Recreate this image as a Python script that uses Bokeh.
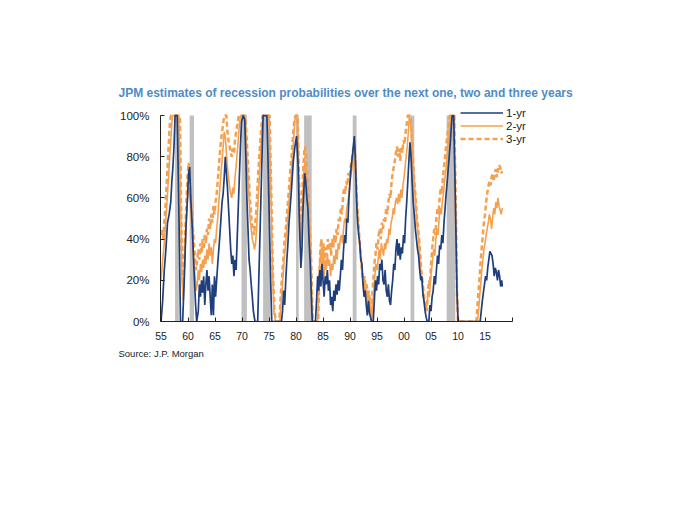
from bokeh.plotting import figure
from bokeh.models import (Range1d, FixedTicker, PrintfTickFormatter, Title,
                          Legend, LegendItem, ColumnDataSource)
from bokeh.embed import file_html
from bokeh.resources import INLINE

TITLE = "JPM estimates of recession probabilities over the next one, two and three years"
SOURCE = "Source: J.P. Morgan"

# NBER recession periods (decimal years)
REC_START = [1957.6, 1960.3, 1969.9, 1973.9, 1980.0, 1981.5, 1990.5, 2001.2, 2007.9]
REC_END = [1958.3, 1961.1, 1970.9, 1975.2, 1980.5, 1982.9, 1991.2, 2001.9, 2009.5]

X_TICKS = [1955, 1960, 1965, 1970, 1975, 1980, 1985, 1990, 1995, 2000, 2005, 2010, 2015, 2020]
X_LABELS = ["55", "60", "65", "70", "75", "80", "85", "90", "95", "00", "05", "10", "15", ""]
Y_TICKS = [0, 20, 40, 60, 80, 100]

# 1-year recession probability (%)
ONE_YR = [
    (1955.0, 0), (1955.3, 10), (1955.6, 25), (1955.9, 35), (1956.2, 48), (1956.5, 52),
    (1956.8, 58), (1957.0, 68), (1957.2, 75), (1957.4, 85), (1957.6, 100), (1958.0, 100),
    (1958.3, 55), (1958.6, 0), (1959.0, 0), (1959.3, 20), (1959.6, 45), (1959.9, 60),
    (1960.1, 72), (1960.3, 75), (1960.5, 60), (1960.8, 45), (1961.1, 25), (1961.4, 8),
    (1961.6, 0), (1961.9, 5), (1962.1, 18), (1962.3, 12), (1962.5, 20), (1962.7, 14),
    (1962.9, 22), (1963.1, 8), (1963.3, 18), (1963.5, 25), (1963.7, 15), (1963.9, 22),
    (1964.1, 12), (1964.3, 3), (1964.5, 18), (1964.7, 3), (1964.9, 22), (1965.1, 12),
    (1965.3, 20), (1965.5, 28), (1965.7, 35), (1965.9, 42), (1966.1, 50), (1966.3, 58),
    (1966.5, 62), (1966.7, 70), (1966.9, 80), (1967.1, 72), (1967.3, 65), (1967.5, 55),
    (1967.7, 45), (1967.9, 35), (1968.1, 28), (1968.3, 32), (1968.5, 22), (1968.7, 30),
    (1968.9, 25), (1969.1, 40), (1969.3, 55), (1969.5, 70), (1969.7, 85), (1969.9, 97),
    (1970.2, 100), (1970.5, 98), (1970.7, 80), (1970.9, 60), (1971.1, 45), (1971.3, 30),
    (1971.5, 25), (1971.7, 18), (1971.9, 12), (1972.1, 5), (1972.4, 0), (1972.9, 0),
    (1973.1, 20), (1973.3, 40), (1973.5, 60), (1973.7, 80), (1973.9, 100), (1974.6, 100),
    (1974.8, 80), (1975.0, 55), (1975.3, 20), (1975.5, 0), (1977.3, 0), (1977.5, 5),
    (1977.7, 15), (1977.9, 8), (1978.1, 20), (1978.3, 30), (1978.5, 38), (1978.7, 48),
    (1978.9, 55), (1979.1, 62), (1979.3, 70), (1979.5, 78), (1979.8, 85), (1980.1, 90),
    (1980.4, 75), (1980.6, 50), (1980.9, 26), (1981.1, 35), (1981.3, 55), (1981.6, 72),
    (1981.8, 68), (1982.0, 60), (1982.2, 55), (1982.4, 40), (1982.6, 30), (1982.8, 15),
    (1983.0, 0), (1983.6, 0), (1983.8, 10), (1984.0, 22), (1984.2, 15), (1984.4, 25),
    (1984.6, 17), (1984.8, 28), (1985.0, 20), (1985.2, 12), (1985.4, 22), (1985.6, 18),
    (1985.8, 25), (1986.0, 15), (1986.2, 20), (1986.4, 8), (1986.6, 12), (1986.8, 5),
    (1987.0, 15), (1987.2, 10), (1987.4, 18), (1987.6, 13), (1987.8, 20), (1988.0, 15),
    (1988.2, 22), (1988.4, 30), (1988.6, 25), (1988.8, 35), (1989.0, 42), (1989.2, 38),
    (1989.4, 50), (1989.6, 48), (1989.8, 60), (1990.0, 68), (1990.2, 75), (1990.5, 82),
    (1990.8, 90), (1991.0, 78), (1991.2, 60), (1991.4, 48), (1991.6, 42), (1991.8, 38),
    (1992.0, 30), (1992.2, 28), (1992.4, 18), (1992.6, 12), (1992.8, 15), (1993.0, 8),
    (1993.2, 3), (1993.4, 10), (1993.6, 4), (1993.8, 2), (1994.0, 0), (1994.3, 0),
    (1994.5, 10), (1994.7, 20), (1994.9, 15), (1995.1, 22), (1995.3, 18), (1995.5, 28),
    (1995.7, 25), (1995.9, 30), (1996.1, 20), (1996.3, 18), (1996.5, 25), (1996.7, 15),
    (1996.9, 12), (1997.1, 18), (1997.3, 10), (1997.5, 8), (1997.7, 15), (1997.9, 20),
    (1998.1, 28), (1998.3, 25), (1998.5, 35), (1998.7, 40), (1998.9, 32), (1999.1, 38),
    (1999.3, 30), (1999.5, 36), (1999.7, 33), (1999.9, 42), (2000.1, 38), (2000.3, 50),
    (2000.5, 58), (2000.7, 68), (2000.9, 78), (2001.1, 87), (2001.3, 80), (2001.5, 68),
    (2001.7, 58), (2001.9, 52), (2002.1, 45), (2002.3, 40), (2002.5, 35), (2002.7, 32),
    (2002.9, 25), (2003.1, 20), (2003.3, 22), (2003.5, 13), (2003.7, 10), (2003.9, 5),
    (2004.1, 2), (2004.3, 0), (2004.6, 0), (2004.8, 8), (2005.0, 5), (2005.2, 12),
    (2005.4, 15), (2005.6, 22), (2005.8, 18), (2006.0, 25), (2006.2, 32), (2006.4, 28),
    (2006.6, 37), (2006.8, 35), (2007.0, 42), (2007.2, 38), (2007.4, 48), (2007.6, 55),
    (2007.8, 62), (2008.0, 68), (2008.3, 78), (2008.6, 88), (2008.9, 100), (2009.2, 100),
    (2009.5, 60), (2009.8, 15), (2010.0, 0), (2014.1, 0), (2014.3, 5), (2014.5, 10),
    (2014.7, 14), (2014.9, 18), (2015.1, 22), (2015.3, 20), (2015.5, 26), (2015.7, 30),
    (2015.9, 34), (2016.1, 33), (2016.3, 32), (2016.5, 28), (2016.7, 22), (2016.9, 26),
    (2017.1, 24), (2017.3, 20), (2017.5, 25), (2017.7, 22), (2017.9, 17), (2018.1, 20),
    (2018.2, 17),
]

# 2-year recession probability (%)
TWO_YR = [
    (1955.0, 20), (1955.3, 30), (1955.6, 38), (1955.9, 50), (1956.2, 62), (1956.5, 75),
    (1956.8, 88), (1957.1, 100), (1958.3, 100), (1958.6, 60), (1958.9, 20), (1959.1, 10),
    (1959.3, 25), (1959.5, 38), (1959.7, 50), (1959.9, 60), (1960.1, 65), (1960.3, 62),
    (1960.5, 55), (1960.7, 45), (1960.9, 35), (1961.1, 28), (1961.3, 22), (1961.5, 15),
    (1961.7, 18), (1961.9, 25), (1962.1, 20), (1962.3, 28), (1962.5, 24), (1962.7, 30),
    (1962.9, 26), (1963.1, 32), (1963.3, 28), (1963.5, 35), (1963.7, 30), (1963.9, 38),
    (1964.1, 32), (1964.3, 36), (1964.5, 28), (1964.7, 35), (1964.9, 40), (1965.1, 38),
    (1965.3, 45), (1965.5, 50), (1965.7, 58), (1965.9, 65), (1966.1, 72), (1966.3, 78),
    (1966.5, 85), (1966.7, 92), (1966.9, 90), (1967.1, 82), (1967.3, 75), (1967.5, 70),
    (1967.7, 65), (1967.9, 62), (1968.1, 60), (1968.3, 65), (1968.5, 62), (1968.7, 70),
    (1968.9, 75), (1969.1, 82), (1969.3, 88), (1969.5, 95), (1969.7, 100), (1970.5, 100),
    (1970.7, 90), (1970.9, 80), (1971.1, 70), (1971.3, 60), (1971.5, 50), (1971.7, 45),
    (1971.9, 40), (1972.1, 38), (1972.3, 35), (1972.5, 38), (1972.7, 45), (1972.9, 55),
    (1973.1, 65), (1973.3, 75), (1973.5, 85), (1973.7, 95), (1973.9, 100), (1975.0, 100),
    (1975.3, 70), (1975.6, 30), (1975.9, 5), (1976.2, 0), (1977.0, 0), (1977.2, 8),
    (1977.4, 15), (1977.6, 22), (1977.8, 30), (1978.0, 35), (1978.2, 42), (1978.4, 48),
    (1978.6, 55), (1978.8, 62), (1979.0, 68), (1979.2, 75), (1979.4, 82), (1979.6, 90),
    (1979.8, 98), (1980.0, 100), (1980.3, 95), (1980.5, 70), (1980.7, 50), (1980.9, 38),
    (1981.1, 50), (1981.3, 65), (1981.5, 75), (1981.7, 78), (1981.9, 70), (1982.1, 62),
    (1982.3, 55), (1982.5, 45), (1982.7, 30), (1982.9, 12), (1983.1, 0), (1984.0, 0),
    (1984.2, 15), (1984.4, 28), (1984.6, 35), (1984.8, 25), (1985.0, 32), (1985.2, 22),
    (1985.4, 30), (1985.6, 25), (1985.8, 33), (1986.0, 27), (1986.2, 30), (1986.4, 22),
    (1986.6, 28), (1986.8, 25), (1987.0, 32), (1987.2, 28), (1987.4, 35), (1987.6, 30),
    (1987.8, 38), (1988.0, 35), (1988.2, 40), (1988.4, 42), (1988.6, 38), (1988.8, 45),
    (1989.0, 50), (1989.2, 48), (1989.4, 55), (1989.6, 58), (1989.8, 62), (1990.0, 68),
    (1990.2, 72), (1990.4, 75), (1990.6, 80), (1990.8, 84), (1991.0, 75), (1991.2, 62),
    (1991.4, 52), (1991.6, 45), (1991.8, 38), (1992.0, 30), (1992.2, 25), (1992.4, 20),
    (1992.6, 15), (1992.8, 18), (1993.0, 10), (1993.2, 15), (1993.4, 8), (1993.6, 12),
    (1993.8, 5), (1994.0, 0), (1994.2, 8), (1994.4, 15), (1994.6, 22), (1994.8, 28),
    (1995.0, 25), (1995.2, 30), (1995.4, 35), (1995.6, 30), (1995.8, 38), (1996.0, 35),
    (1996.2, 32), (1996.4, 38), (1996.6, 35), (1996.8, 40), (1997.0, 38), (1997.2, 45),
    (1997.4, 42), (1997.6, 48), (1997.8, 50), (1998.0, 55), (1998.2, 52), (1998.4, 58),
    (1998.6, 60), (1998.8, 57), (1999.0, 62), (1999.2, 58), (1999.4, 64), (1999.6, 60),
    (1999.8, 66), (2000.0, 70), (2000.2, 75), (2000.4, 80), (2000.6, 85), (2000.8, 92),
    (2001.0, 100), (2001.3, 95), (2001.5, 85), (2001.7, 75), (2001.9, 68), (2002.1, 60),
    (2002.3, 52), (2002.5, 45), (2002.7, 40), (2002.9, 32), (2003.1, 25), (2003.3, 20),
    (2003.5, 15), (2003.7, 10), (2003.9, 8), (2004.1, 5), (2004.3, 10), (2004.5, 15),
    (2004.7, 12), (2004.9, 20), (2005.1, 25), (2005.3, 30), (2005.5, 35), (2005.7, 32),
    (2005.9, 40), (2006.1, 45), (2006.3, 42), (2006.5, 50), (2006.7, 55), (2006.9, 52),
    (2007.1, 58), (2007.3, 62), (2007.5, 68), (2007.7, 72), (2007.9, 78), (2008.1, 85),
    (2008.3, 90), (2008.5, 95), (2008.8, 100), (2009.2, 100), (2009.5, 60), (2009.8, 15),
    (2010.0, 0), (2013.6, 0), (2013.8, 5), (2014.0, 12), (2014.2, 18), (2014.4, 25),
    (2014.6, 30), (2014.8, 35), (2015.0, 38), (2015.2, 42), (2015.4, 45), (2015.6, 48),
    (2015.8, 52), (2016.0, 50), (2016.2, 45), (2016.4, 50), (2016.6, 55), (2016.8, 52),
    (2017.0, 58), (2017.2, 55), (2017.4, 60), (2017.6, 56), (2017.8, 54), (2018.0, 52),
    (2018.2, 55),
]

# 3-year recession probability (%)
THREE_YR = [
    (1955.0, 42), (1955.2, 45), (1955.4, 40), (1955.6, 48), (1955.8, 55), (1956.0, 65),
    (1956.2, 75), (1956.4, 85), (1956.6, 95), (1956.8, 100), (1958.5, 100), (1958.7, 60),
    (1958.9, 25), (1959.1, 18), (1959.3, 30), (1959.5, 45), (1959.7, 58), (1959.9, 70),
    (1960.1, 77), (1960.3, 72), (1960.5, 62), (1960.7, 52), (1960.9, 45), (1961.1, 38),
    (1961.3, 30), (1961.5, 25), (1961.7, 30), (1961.9, 35), (1962.1, 30), (1962.3, 38),
    (1962.5, 33), (1962.7, 40), (1962.9, 35), (1963.1, 42), (1963.3, 38), (1963.5, 45),
    (1963.7, 42), (1963.9, 50), (1964.1, 45), (1964.3, 52), (1964.5, 48), (1964.7, 56),
    (1964.9, 52), (1965.1, 58), (1965.3, 62), (1965.5, 68), (1965.7, 75), (1965.9, 82),
    (1966.1, 88), (1966.3, 92), (1966.5, 96), (1966.7, 100), (1967.1, 100), (1967.3, 92),
    (1967.5, 88), (1967.7, 85), (1967.9, 82), (1968.1, 80), (1968.3, 84), (1968.5, 82),
    (1968.7, 88), (1968.9, 92), (1969.1, 95), (1969.4, 100), (1970.6, 100), (1970.8, 92),
    (1971.0, 82), (1971.2, 72), (1971.4, 62), (1971.6, 55), (1971.8, 48), (1972.0, 45),
    (1972.2, 42), (1972.4, 47), (1972.6, 52), (1972.8, 62), (1973.0, 72), (1973.2, 80),
    (1973.4, 88), (1973.6, 95), (1973.8, 100), (1975.1, 100), (1975.4, 65), (1975.7, 25),
    (1976.0, 5), (1976.3, 0), (1976.9, 0), (1977.1, 10), (1977.3, 18), (1977.5, 25),
    (1977.7, 32), (1977.9, 40), (1978.1, 45), (1978.3, 52), (1978.5, 58), (1978.7, 65),
    (1978.9, 72), (1979.1, 78), (1979.3, 85), (1979.5, 92), (1979.7, 98), (1979.9, 100),
    (1980.3, 100), (1980.5, 75), (1980.7, 55), (1980.9, 45), (1981.1, 58), (1981.3, 72),
    (1981.5, 82), (1981.7, 85), (1981.9, 78), (1982.1, 70), (1982.3, 62), (1982.5, 50),
    (1982.7, 38), (1982.9, 20), (1983.1, 0), (1984.1, 0), (1984.3, 20), (1984.5, 35),
    (1984.7, 40), (1984.9, 30), (1985.1, 38), (1985.3, 28), (1985.5, 36), (1985.7, 32),
    (1985.9, 40), (1986.1, 35), (1986.3, 38), (1986.5, 32), (1986.7, 40), (1986.9, 36),
    (1987.1, 42), (1987.3, 38), (1987.5, 45), (1987.7, 42), (1987.9, 50), (1988.1, 48),
    (1988.3, 55), (1988.5, 52), (1988.7, 60), (1988.9, 65), (1989.1, 62), (1989.3, 68),
    (1989.5, 66), (1989.7, 72), (1989.9, 70), (1990.1, 75), (1990.3, 78), (1990.5, 82),
    (1990.7, 86), (1990.9, 84), (1991.1, 70), (1991.3, 58), (1991.5, 50), (1991.7, 42),
    (1991.9, 35), (1992.1, 28), (1992.3, 22), (1992.5, 18), (1992.7, 22), (1992.9, 15),
    (1993.1, 18), (1993.3, 12), (1993.5, 15), (1993.7, 8), (1993.9, 5), (1994.1, 12),
    (1994.3, 20), (1994.5, 28), (1994.7, 32), (1994.9, 38), (1995.1, 35), (1995.3, 42),
    (1995.5, 45), (1995.7, 40), (1995.9, 48), (1996.1, 45), (1996.3, 50), (1996.5, 48),
    (1996.7, 55), (1996.9, 52), (1997.1, 58), (1997.3, 62), (1997.5, 60), (1997.7, 68),
    (1997.9, 72), (1998.1, 75), (1998.3, 78), (1998.5, 82), (1998.7, 85), (1998.9, 80),
    (1999.1, 84), (1999.3, 78), (1999.5, 85), (1999.7, 82), (1999.9, 88), (2000.1, 86),
    (2000.3, 92), (2000.5, 96), (2000.7, 100), (2001.2, 100), (2001.4, 92), (2001.6, 82),
    (2001.8, 72), (2002.0, 65), (2002.2, 58), (2002.4, 50), (2002.6, 45), (2002.8, 40),
    (2003.0, 32), (2003.2, 25), (2003.4, 20), (2003.6, 15), (2003.8, 10), (2004.0, 7),
    (2004.2, 5), (2004.4, 12), (2004.6, 20), (2004.8, 18), (2005.0, 28), (2005.2, 35),
    (2005.4, 40), (2005.6, 45), (2005.8, 42), (2006.0, 50), (2006.2, 55), (2006.4, 52),
    (2006.6, 60), (2006.8, 65), (2007.0, 62), (2007.2, 70), (2007.4, 75), (2007.6, 80),
    (2007.8, 85), (2008.0, 90), (2008.2, 95), (2008.5, 100), (2009.3, 100), (2009.6, 55),
    (2009.8, 15), (2010.0, 0), (2013.4, 0), (2013.6, 8), (2013.8, 15), (2014.0, 22),
    (2014.2, 30), (2014.4, 36), (2014.6, 42), (2014.8, 48), (2015.0, 52), (2015.2, 58),
    (2015.4, 62), (2015.6, 65), (2015.8, 68), (2016.0, 66), (2016.2, 70), (2016.4, 72),
    (2016.6, 68), (2016.8, 72), (2017.0, 74), (2017.2, 70), (2017.4, 74), (2017.6, 76),
    (2017.8, 75), (2018.0, 72), (2018.2, 73),
]

NAVY = "#1F3E7C"
ORANGE = "#F5A04E"
GREY = "#C0C0C0"
TITLE_BLUE = "#4F8BC6"
FONT = "Liberation Sans"

p = figure(width=620, height=380, output_backend="svg", toolbar_location=None,
           x_range=Range1d(1954.9, 2026.2), y_range=Range1d(0, 107.3),
           min_border_left=160, min_border_right=75, min_border_top=100,
           min_border_bottom=59)
p.outline_line_color = None
p.xgrid.visible = False
p.ygrid.visible = False
p.background_fill_color = "white"
p.border_fill_color = "white"

# recession shading
p.quad(left=REC_START, right=REC_END, bottom=0, top=100,
       fill_color=GREY, line_color=None)

def split(series):
    return ColumnDataSource(dict(x=[a for a, _ in series], y=[b for _, b in series]))

r3 = p.line("x", "y", source=split(THREE_YR), line_color=ORANGE, line_width=2.5,
            line_dash="5 3")
r2 = p.line("x", "y", source=split(TWO_YR), line_color=ORANGE, line_width=1.6)
r1 = p.line("x", "y", source=split(ONE_YR), line_color=NAVY, line_width=1.7)

legend = Legend(items=[LegendItem(label="1-yr", renderers=[r1]),
                       LegendItem(label="2-yr", renderers=[r2]),
                       LegendItem(label="3-yr", renderers=[r3])],
                location=(300, 176), orientation="vertical",
                glyph_width=43, glyph_height=13, label_height=13,
                label_standoff=3, spacing=0, padding=0, margin=0,
                label_text_font=FONT, label_text_font_size="11.5px",
                label_text_color="#222222",
                background_fill_alpha=0, border_line_color=None)
p.add_layout(legend)

# axes
xa = p.xaxis[0]
xa.ticker = FixedTicker(ticks=X_TICKS)
xa.major_label_overrides = {t: l for t, l in zip(X_TICKS, X_LABELS)}
xa.bounds = (1954.9, 2020)
xa.minor_tick_line_color = None
xa.major_tick_in = 4
xa.major_tick_out = 0
xa.major_label_standoff = 10
xa.axis_line_color = "#222222"
xa.major_tick_line_color = "#222222"
xa.major_label_text_font = FONT
xa.major_label_text_font_size = "10.5px"
xa.major_label_text_color = "#222222"

ya = p.yaxis[0]
ya.ticker = FixedTicker(ticks=Y_TICKS)
ya.formatter = PrintfTickFormatter(format="%d%%")
ya.bounds = (0, 100)
ya.minor_tick_line_color = None
ya.major_tick_in = 4
ya.major_tick_out = 0
ya.major_label_standoff = 11
ya.axis_line_color = "#222222"
ya.major_tick_line_color = "#222222"
ya.major_label_text_font = FONT
ya.major_label_text_font_size = "11.5px"
ya.major_label_text_color = "#222222"

p.add_layout(Title(text=TITLE, align="left", offset=-42, standoff=2,
                   text_font=FONT, text_font_size="12px", text_font_style="bold",
                   text_color=TITLE_BLUE), "above")
p.add_layout(Title(text=SOURCE, align="left", offset=-42, standoff=7,
                   text_font=FONT, text_font_size="9.5px", text_font_style="normal",
                   text_color="#222222"), "below")

open("out.html", "w").write(file_html(p, INLINE))
